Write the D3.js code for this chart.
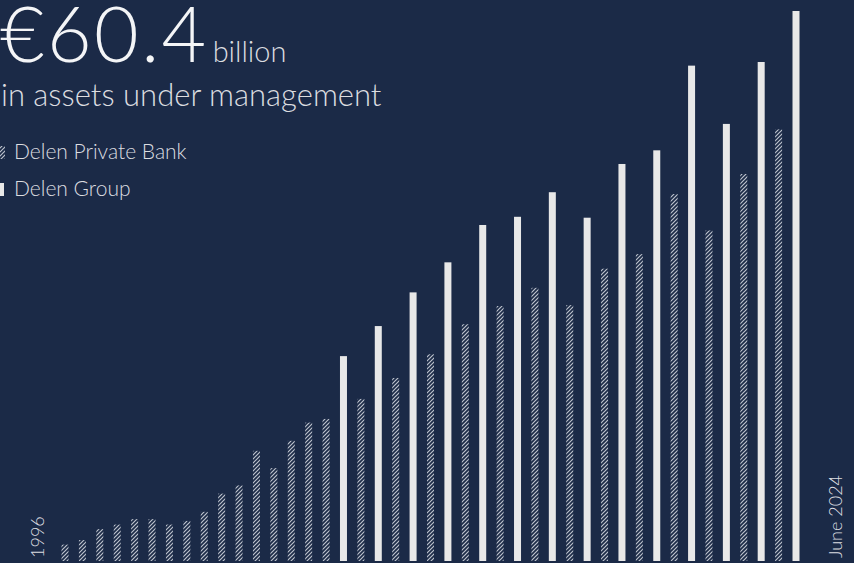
<!DOCTYPE html>
<html>
<head>
<meta charset="utf-8">
<script src="https://cdn.jsdelivr.net/npm/d3@7"></script>
<style>
  html, body { margin: 0; padding: 0; background: #1b2a47; overflow: hidden; }
  svg { display: block; }
  text { font-family: "Lato", "Open Sans", sans-serif; font-weight: 300; }
</style>
</head>
<body>
<div id="chart"></div>
<script>
// assets under management, EUR billion
const years = ["1996", "1997", "1998", "1999", "2000", "2001", "2002", "2003", "2004",
  "2005", "2006", "2007", "2008", "2009", "2010", "2011", "2012", "2013", "2014",
  "2015", "2016", "2017", "2018", "2019", "2020", "2021", "2022", "2023", "June 2024"];

const privateBank = [1.8, 2.3, 3.5, 4.0, 4.6, 4.6, 4.0, 4.4, 5.4,
  7.4, 8.3, 12.1, 10.2, 13.2, 15.2, 15.6, 17.8, 20.1, 22.7,
  26.0, 28.0, 30.0, 28.1, 32.1, 33.7, 40.3, 36.3, 42.5, 47.4];

const delenGroup = [null, null, null, null, null, null, null, null, null,
  null, null, null, null, null, null, 22.5, 25.8, 29.5, 32.8,
  36.9, 37.8, 40.5, 37.7, 43.6, 45.1, 54.4, 48.0, 54.8, 60.4];

const legendLabels = ["Delen Private Bank", "Delen Group"];
const headline = "€60.4";

const width = 854,
  height = 563,
  baseline = 561,
  barWidth = 7;

const bg = "#1b2a47",
  solidColour = "#e8e8e8",
  hatchColour = "#bcc2cc",
  textColour = "#dcdde0";

// one slot per bar: private bank always, group only when it exists
const slots = [];
years.forEach((y, i) => {
  slots.push({ key: y + "-p", year: y, series: "private", value: privateBank[i] });
  if (delenGroup[i] != null) {
    slots.push({ key: y + "-g", year: y, series: "group", value: delenGroup[i] });
  }
});

const svg = d3.select("#chart")
  .append("svg")
  .attr("width", width)
  .attr("height", height);

svg.append("rect")
  .attr("width", width)
  .attr("height", height)
  .attr("fill", bg);

// hatch pattern
const pattern = svg.append("defs")
  .append("pattern")
  .attr("id", "hatch")
  .attr("patternUnits", "userSpaceOnUse")
  .attr("width", 4)
  .attr("height", 4);

pattern.append("path")
  .attr("d", "M-1,1 l2,-2 M0,4 l4,-4 M3,5 l2,-2")
  .attr("stroke", hatchColour)
  .attr("stroke-width", 1.2)
  .attr("fill", "none");

const xScale = d3.scalePoint()
  .domain(slots.map(d => d.key))
  .range([65, 796]);

const yScale = d3.scaleLinear()
  .domain([0, d3.max(delenGroup)])
  .range([baseline, 11]);

svg.append("g")
  .attr("class", "bars")
  .selectAll("rect")
  .data(slots)
  .enter()
  .append("rect")
  .attr("x", d => xScale(d.key) - barWidth / 2)
  .attr("width", barWidth)
  .attr("y", d => yScale(d.value))
  .attr("height", d => yScale(0) - yScale(d.value))
  .attr("fill", d => d.series === "group" ? solidColour : "url(#hatch)");

// headline
const head = svg.append("text")
  .attr("x", 0)
  .attr("y", 62)
  .attr("fill", "#f4f5f7")
  .style("font-size", "77px");
head.append("tspan")
  .style("letter-spacing", "2.4px")
  .text(headline);
head.append("tspan")
  .attr("dx", 4)
  .attr("fill", textColour)
  .style("font-size", "29px")
  .text("billion");

svg.append("text")
  .attr("x", 1)
  .attr("y", 106)
  .attr("fill", textColour)
  .style("font-size", "31px")
  .text("in assets under management");

// legend
const legend = svg.append("g").attr("class", "legend");
const legendY = [146, 183];

legend.selectAll("rect")
  .data(legendLabels)
  .enter()
  .append("rect")
  .attr("x", (d, i) => i === 0 ? -2 : -3)
  .attr("y", (d, i) => legendY[i])
  .attr("width", 7)
  .attr("height", 13)
  .attr("fill", (d, i) => i === 0 ? "url(#hatch)" : solidColour);

legend.selectAll("text")
  .data(legendLabels)
  .enter()
  .append("text")
  .attr("x", 14)
  .attr("y", (d, i) => legendY[i] + 13)
  .attr("fill", textColour)
  .style("font-size", "21px")
  .text(d => d);

// first / last labels, rotated
const ends = [
  { label: years[0], x: 44 },
  { label: years[years.length - 1], x: 842 }
];

svg.selectAll(".end-label")
  .data(ends)
  .enter()
  .append("text")
  .attr("class", "end-label")
  .attr("transform", d => `translate(${d.x}, 558) rotate(-90)`)
  .attr("fill", textColour)
  .style("font-size", "18px")
  .text(d => d.label);
</script>
</body>
</html>
